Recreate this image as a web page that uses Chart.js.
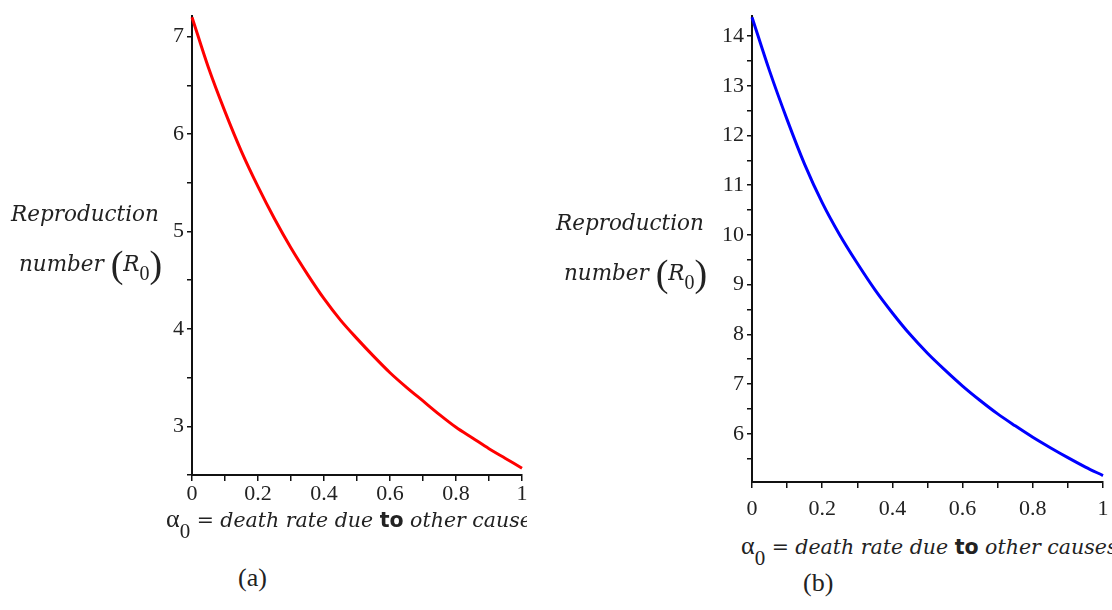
<!DOCTYPE html>
<html>
<head>
<meta charset="utf-8">
<script src="https://cdn.jsdelivr.net/npm/chart.js@4.4.1/dist/chart.umd.min.js"></script>
<style>
  body { margin: 0; width: 1112px; height: 610px; background: #fff; position: relative; overflow: hidden; }
  .box { position: absolute; }
  .ytitle { position: absolute; font-family: "DejaVu Serif", serif; font-style: italic; font-size: 21.5px; color: #222; line-height: 1; white-space: nowrap; }
  .ytitle .par { font-style: normal; font-family: "Liberation Serif", serif; font-size: 38px; vertical-align: -6px; }
  .ytitle sub { font-style: normal; font-family: "Liberation Serif", serif; font-size: 20px; vertical-align: -9px; }
  .xtitle { position: absolute; font-family: "DejaVu Serif", serif; font-size: 20.5px; color: #222; white-space: nowrap; overflow: hidden; line-height: 1.2; }
  .xtitle i { font-style: italic; }
  .xtitle b { font-family: "DejaVu Sans", sans-serif; font-weight: bold; }
  .xtitle .alfa { font-family: "Liberation Serif", serif; font-size: 26px; }
  .xtitle sub { font-family: "Liberation Serif", serif; font-size: 21px; vertical-align: -11px; }
  .legenda { position: absolute; font-family: "Liberation Serif", serif; font-size: 26px; color: #222; }
</style>
</head>
<body>
<div class="box" style="left:0;top:0;width:540px;height:510px"><canvas id="graf-a"></canvas></div>
<div class="box" style="left:560px;top:0;width:552px;height:520px"><canvas id="graf-b"></canvas></div>

<div class="ytitle" style="left:11px;top:203px">Reproduction</div>
<div class="ytitle" style="left:19px;top:245px">number <span class="par">(</span>R<sub>0</sub><span class="par">)</span></div>
<div class="ytitle" style="left:556px;top:212px">Reproduction</div>
<div class="ytitle" style="left:564px;top:254px">number <span class="par">(</span>R<sub>0</sub><span class="par">)</span></div>

<div class="xtitle" style="left:166px;top:503px;width:361px;height:44px"><span class="alfa">α</span><sub>0</sub> = <i>death rate due</i> <b>to</b> <i>other causes</i></div>
<div class="xtitle" style="left:741px;top:530px;width:371px;height:44px"><span class="alfa">α</span><sub>0</sub> = <i>death rate due</i> <b>to</b> <i>other causes</i></div>

<div class="legenda" style="left:238px;top:563px">(a)</div>
<div class="legenda" style="left:803px;top:568px">(b)</div>

<script>
// death rate due to other causes (x)
const alfa = [0, 0.05, 0.1, 0.15, 0.2, 0.25, 0.3, 0.35, 0.4, 0.45, 0.5,
  0.55, 0.6, 0.65, 0.7, 0.75, 0.8, 0.85, 0.9, 0.95, 1];

// R0, figure (a)
const r0A = [7.2, 6.68, 6.23, 5.82, 5.46, 5.13, 4.83, 4.56, 4.31, 4.09, 3.9,
  3.72, 3.55, 3.4, 3.26, 3.12, 2.99, 2.88, 2.77, 2.67, 2.57];

// R0, figure (b)
const r0B = [14.38, 13.3, 12.32, 11.42, 10.65, 10.0, 9.43, 8.9, 8.43, 8.0, 7.62,
  7.28, 6.96, 6.67, 6.4, 6.16, 5.93, 5.72, 5.52, 5.33, 5.16];

const ticksX = [0, 0.2, 0.4, 0.6, 0.8, 1];
const ticksYA = [3, 4, 5, 6, 7];
const ticksYB = [6, 7, 8, 9, 10, 11, 12, 13, 14];

const temLabel = (lista, v) => lista.some((t) => Math.abs(t - v) < 1e-6);

const fonteTick = { family: "'Liberation Serif', serif", size: 22 };

const gerarGrafico = (id, serie, cor, yMin, yMax, labelsY, pad, alturaX, padX) => {
  var ctx = document.getElementById(id).getContext("2d");
  var chart = new Chart(ctx, {
    type: "line",
    data: {
      datasets: [
        {
          data: alfa.map((x, i) => ({ x: x, y: serie[i] })),
          borderColor: cor,
          borderWidth: 3,
          pointRadius: 0,
          cubicInterpolationMode: "monotone",
          fill: false,
          clip: 4,
        },
      ],
    },
    options: {
      responsive: true,
      maintainAspectRatio: false,
      animation: false,
      layout: { padding: pad },
      plugins: { legend: { display: false }, tooltip: { enabled: false } },
      scales: {
        x: {
          type: "linear",
          min: 0,
          max: 1,
          afterFit: (s) => { s.height = alturaX; s.paddingRight = 0; },
          border: { display: true, color: "#111", width: 2 },
          grid: { drawOnChartArea: false, drawTicks: true, tickLength: 6, color: "#111", lineWidth: 1.5 },
          ticks: {
            stepSize: 0.1,
            autoSkip: false,
            maxRotation: 0,
            includeBounds: false,
            padding: padX,
            color: "#222",
            font: fonteTick,
            callback: (v) => (temLabel(ticksX, v) ? String(v) : ""),
          },
        },
        y: {
          type: "linear",
          min: yMin,
          max: yMax,
          afterFit: (s) => { s.width = 192; },
          border: { display: true, color: "#111", width: 2 },
          grid: { drawOnChartArea: false, drawTicks: true, tickLength: 5, color: "#111", lineWidth: 1.5 },
          ticks: {
            stepSize: 0.5,
            autoSkip: false,
            includeBounds: false,
            padding: 3,
            color: "#222",
            font: fonteTick,
            callback: (v) => (temLabel(labelsY, v) ? String(v) : ""),
          },
        },
      },
    },
  });
  return chart;
};

gerarGrafico("graf-a", r0A, "#ff0000", 2.5, 7.21, ticksYA, { top: 10, right: 18, left: 0, bottom: 0 }, 35, 0);
gerarGrafico("graf-b", r0B, "#0000ff", 5.03, 14.4, ticksYB, { top: 16, right: 9, left: 0, bottom: 0 }, 38, 8);
</script>
</body>
</html>
